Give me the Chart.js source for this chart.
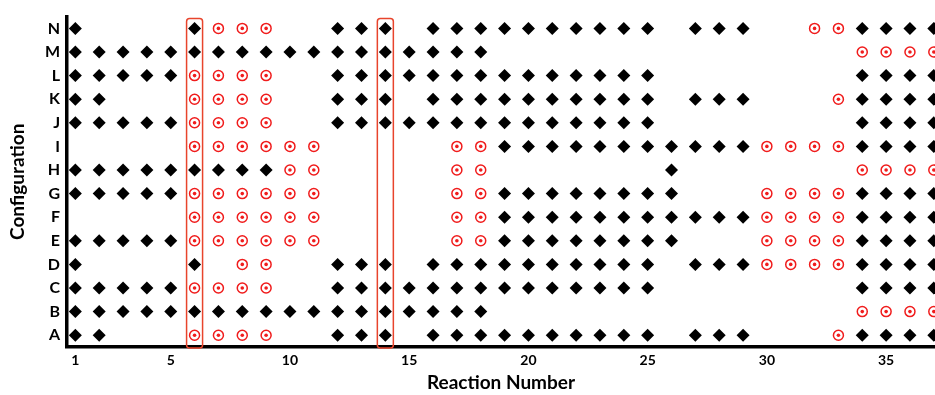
<!DOCTYPE html>
<html lang="en">
<head>
  <meta charset="UTF-8" />
  <title>Configuration vs Reaction Number</title>
  <script src="https://cdn.jsdelivr.net/npm/chart.js"></script>
  <style>
    body { margin: 0; background: #fff; }
    #wrap { width: 935px; height: 395px; }
  </style>
</head>
<body>
  <div id="wrap"><canvas id="matrix"></canvas></div>
  <script>
    // configurations bottom (A) to top (N)
    const configurations = ['A', 'B', 'C', 'D', 'E', 'F', 'G', 'H', 'I', 'J', 'K', 'L', 'M', 'N'];
    const reactionTicks = [1, 5, 10, 15, 20, 25, 30, 35];
    const highlighted = [6, 14];

    // one string per configuration, character i = reaction i+1
    // D = filled diamond, O = red target circle, . = nothing
    const patterns = [
      'DD...OOOO..DDD.DDDDDDDDDD.DDD...ODDDD', // A
      'DDDDDDDDDDDDDDDDDD...............OOOO', // B
      'DDDDDOOOO..DDDDDDDDDDDDDD........DDDD', // C
      'D....D.OO..DDD.DDDDDDDDDD.DDDOOOODDDD', // D
      'DDDDDOOOOOO.....OODDDDDDDD...OOOODDDD', // E
      '.....OOOOOO.....OODDDDDDDDDDDOOOODDDD', // F
      'DDDDDOOOOOO.....OODDDDDDDD...OOOODDDD', // G
      'DDDDDDDDDOO.....OO.......D.......OOOO', // H
      '.....OOOOOO.....OODDDDDDDDDDDOOOODDDD', // I
      'DDDDDOOOO..DDDDDDDDDDDDDD........DDDD', // J
      'DD...OOOO..DDD.DDDDDDDDDD.DDD...ODDDD', // K
      'DDDDDOOOO..DDDDDDDDDDDDDD........DDDD', // L
      'DDDDDDDDDDDDDDDDDD...............OOOO', // M
      'D....DOOO..DDD.DDDDDDDDDD.DDD..OODDDD'  // N
    ];

    const diamondPts = [], circlePts = [];
    patterns.forEach((row, r) => {
      for (let i = 0; i < row.length; i++) {
        if (row[i] === 'D') diamondPts.push({ x: i + 1, y: r + 1 });
        if (row[i] === 'O') circlePts.push({ x: i + 1, y: r + 1 });
      }
    });

    // red rounded boxes around the highlighted reaction columns
    const columnBoxes = {
      id: 'columnBoxes',
      afterDatasetsDraw(chart) {
        const { ctx, scales: { x, y }, chartArea } = chart;
        ctx.save();
        ctx.strokeStyle = '#e8442c';
        ctx.lineWidth = 1.5;
        highlighted.forEach(v => {
          const cx = x.getPixelForValue(v);
          const top = y.getPixelForValue(configurations.length + 0.5) + 2;
          const bottom = chartArea.bottom + 1;
          ctx.beginPath();
          ctx.roundRect(cx - 8, top, 16, bottom - top, 3);
          ctx.stroke();
        });
        ctx.restore();
      }
    };

    const boldFont = (size) => ({ family: 'Lato, "Open Sans", sans-serif', size, weight: 'bold' });

    new Chart(document.getElementById('matrix'), {
      type: 'scatter',
      data: {
        datasets: [
          {
            data: diamondPts,
            order: 2,
            pointStyle: 'rectRot',
            radius: 6.5,
            backgroundColor: '#000',
            borderColor: '#000',
            borderWidth: 0
          },
          {
            data: circlePts,
            order: 1,
            pointStyle: 'circle',
            radius: 5,
            backgroundColor: '#fff',
            borderColor: '#f01c1c',
            borderWidth: 1.5
          },
          {
            data: circlePts,
            order: 0,
            pointStyle: 'circle',
            radius: 1.8,
            backgroundColor: '#f01c1c',
            borderWidth: 0
          }
        ]
      },
      options: {
        responsive: true,
        maintainAspectRatio: false,
        animation: false,
        events: [],
        layout: { autoPadding: false, padding: { top: 10, right: 0, left: 0, bottom: 0 } },
        plugins: {
          legend: { display: false },
          tooltip: { enabled: false }
        },
        scales: {
          x: {
            type: 'linear',
            min: 0.65,
            max: 37.05,
            afterBuildTicks: (axis) => { axis.ticks = reactionTicks.map(v => ({ value: v })); },
            afterFit: (axis) => { axis.height = 48; },
            grid: { display: false, drawTicks: false },
            border: { display: true, color: '#000', width: 3.5 },
            ticks: { color: '#000', font: boldFont(14), padding: 5, maxRotation: 0 },
            title: { display: true, text: 'Reaction Number', color: '#000', font: boldFont(19), padding: { top: 0, bottom: 1 } }
          },
          y: {
            type: 'linear',
            min: 0.5,
            max: configurations.length + 0.5,
            afterBuildTicks: (axis) => { axis.ticks = configurations.map((c, i) => ({ value: i + 1 })); },
            afterFit: (axis) => { axis.width = 67; },
            grid: { display: false, drawTicks: false },
            border: { display: true, color: '#000', width: 3.5 },
            ticks: {
              color: '#000',
              font: boldFont(16),
              padding: 7,
              callback: (v) => configurations[v - 1]
            },
            title: { display: true, text: 'Configuration', color: '#000', font: boldFont(19), padding: { top: 6, bottom: 4 } }
          }
        }
      },
      plugins: [columnBoxes]
    });
  </script>
</body>
</html>
